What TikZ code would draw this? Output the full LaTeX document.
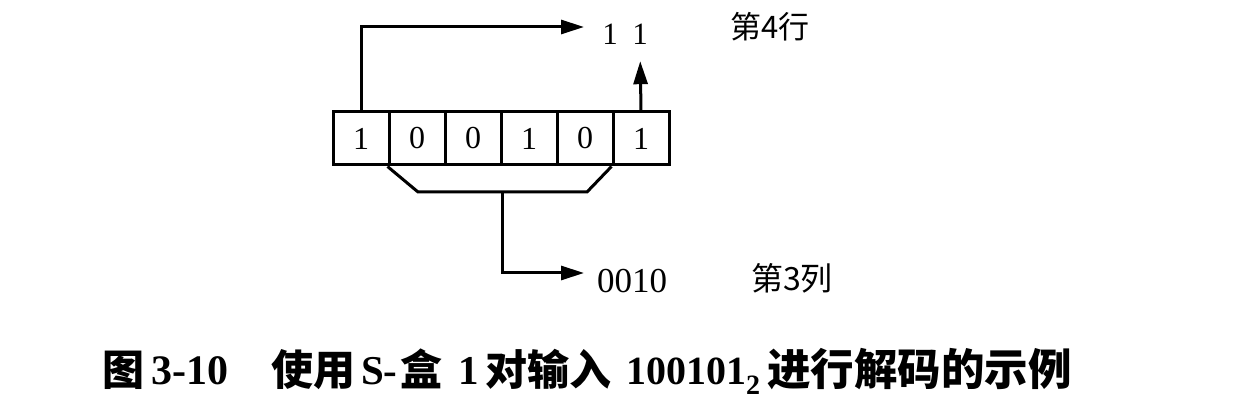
\documentclass[tikz,border=0pt]{standalone}
\usepackage{fontspec}
\setmainfont{Liberation Serif}
\newfontfamily\cjk{Noto Sans CJK SC}
\usetikzlibrary{arrows.meta}
\begin{document}
\begin{tikzpicture}[x=1pt,y=-1pt,
  cell/.style={draw, line width=3pt, minimum width=56pt, minimum height=53pt, inner sep=0pt, font=\fontsize{32}{32}\selectfont},
  wire/.style={line width=3pt},
  arr/.style={wire, -{Triangle[length=23pt,width=14pt]}},
  lbl/.style={inner sep=0pt, font=\fontsize{31}{31}\selectfont},
  cjklbl/.style={inner sep=0pt, font=\cjk\fontsize{31}{31}\selectfont},
  captxt/.style={inner sep=0pt, anchor=base west, font=\bfseries\fontsize{41}{41}\selectfont},
  capcjk/.style={captxt, font=\cjk\bfseries\fontsize{42}{42}\selectfont}]
\useasboundingbox (0,0) rectangle (1243,411);
\foreach \i/\b in {1/1,2/0,3/0,4/1,5/0,6/1}
  \node[cell] (c\i) at ({305+56*\i},138.5) {\b};
\node[lbl, anchor=base] (r1) at (610,45) {1};
\node[lbl, anchor=base] (r2) at (640,45) {1};
\coordinate (tip1) at (584,27);
\draw[arr] (c1.north) |- (tip1);
\draw[arr, shorten >=16pt] (c6.north) -- (r2.south);
\coordinate (bl) at (418,192);
\coordinate (br) at (587,192);
\coordinate (bm) at (502,192);
\draw[wire, line join=miter] (c2.south west) -- (bl) -- (br) -- (c6.south west);
\node[lbl, anchor=base west, font=\fontsize{35}{35}\selectfont] (o) at (597,293) {0010};
\coordinate (tip2) at (584,273);
\draw[arr] (bm) |- (tip2);
\node[cjklbl, anchor=west] (row) at (730,27) {第4行};
\node[cjklbl, anchor=west, font=\cjk\fontsize{32}{32}\selectfont] (col) at (751,278) {第3列};
\node[capcjk] (p1) at (102,386) {图};
\node[captxt, font=\bfseries\fontsize{42}{42}\selectfont] (p2) at (151,385) {3-10};
\node[capcjk] (p3) at (271,386) {使用};
\node[captxt] (p4) at (361,385) {S-};
\node[capcjk] (p5) at (400,386) {盒};
\node[captxt] (p6) at (458,385) {1};
\node[capcjk] (p7) at (485,386) {对输入};
\node[captxt, font=\bfseries\fontsize{40}{40}\selectfont] (p8) at (626,385) {100101\textsubscript{2}};
\node[capcjk, font=\cjk\bfseries\fontsize{43.5}{43.5}\selectfont] (p9) at (767,386) {进行解码的示例};
\end{tikzpicture}
\end{document}
